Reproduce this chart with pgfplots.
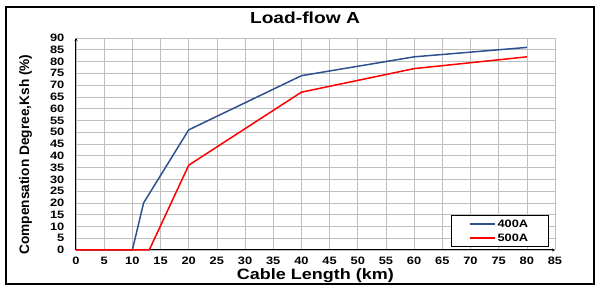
\documentclass[border=0pt]{standalone}
\usepackage{pgfplots}
\pgfplotsset{compat=1.18}
\usetikzlibrary{arrows.meta}
\usepackage{fontspec}
\setmainfont[FakeStretch=1.2]{Liberation Sans}
\newfontfamily\ylabfont{Liberation Sans}
\definecolor{blueA}{RGB}{47,82,143}
\begin{document}
\begin{tikzpicture}[x=1pt,y=1pt]
\path (0,0) rectangle (598,288);
\draw[line width=1.4pt] (6,4) rectangle (594,281);
\begin{axis}[
  at={(76pt,38pt)}, anchor=origin,
  scale only axis, width=479pt, height=212pt,
  xmin=0, xmax=85, ymin=0, ymax=90,
  xtick={0,5,...,85}, ytick={0,5,...,90},
  axis lines=left,
  axis line style={line width=1pt, -{Stealth[length=3pt,width=3pt]}},
  grid=major, grid style={gray!50, line width=0.6pt},
  tick style={draw=none},
  /pgf/number format/assume math mode=true,
  ticklabel style={font=\fontsize{10.7}{12}\selectfont\bfseries},
  xticklabel style={yshift=-1pt},
  yticklabel style={xshift=-6pt},
  title={Load-flow A},
  title style={font=\fontsize{16}{18}\selectfont\bfseries, at={(axis description cs:0.478,1.066)}, anchor=center},
  xlabel={Cable Length (km)},
  xlabel style={font=\fontsize{15}{17}\selectfont\bfseries, at={(axis description cs:0.5,-0.122)}, anchor=center},
  ylabel={Compensation Degree,Ksh (\%)},
  ylabel style={font=\ylabfont\fontsize{13.7}{15}\selectfont\bfseries, at={(axis description cs:-0.105,0.45)}, anchor=center},
  legend style={at={(0.987,0.014)}, anchor=south east, draw=black, line width=1pt,
    font=\fontsize{10.7}{12}\selectfont\bfseries, inner xsep=18pt, inner ysep=2pt,
    nodes={inner xsep=2pt, inner ysep=2pt}, row sep=1pt,
    cells={anchor=west}, fill=white},
  legend image code/.code={\draw[#1] (0pt,0pt) -- (25pt,0pt);},
  legend cell align=left,
  clip=false,
]
\addplot[blueA, line width=1.5pt] coordinates {(0,0) (10,0) (12,20) (20,51) (40,74) (60,82) (80,86)};
\addlegendentry{400A}
\addplot[red, line width=1.5pt] coordinates {(0,0) (13,0) (20,36) (40,67) (60,77) (80,82)};
\addlegendentry{500A}
\end{axis}
\end{tikzpicture}
\end{document}
